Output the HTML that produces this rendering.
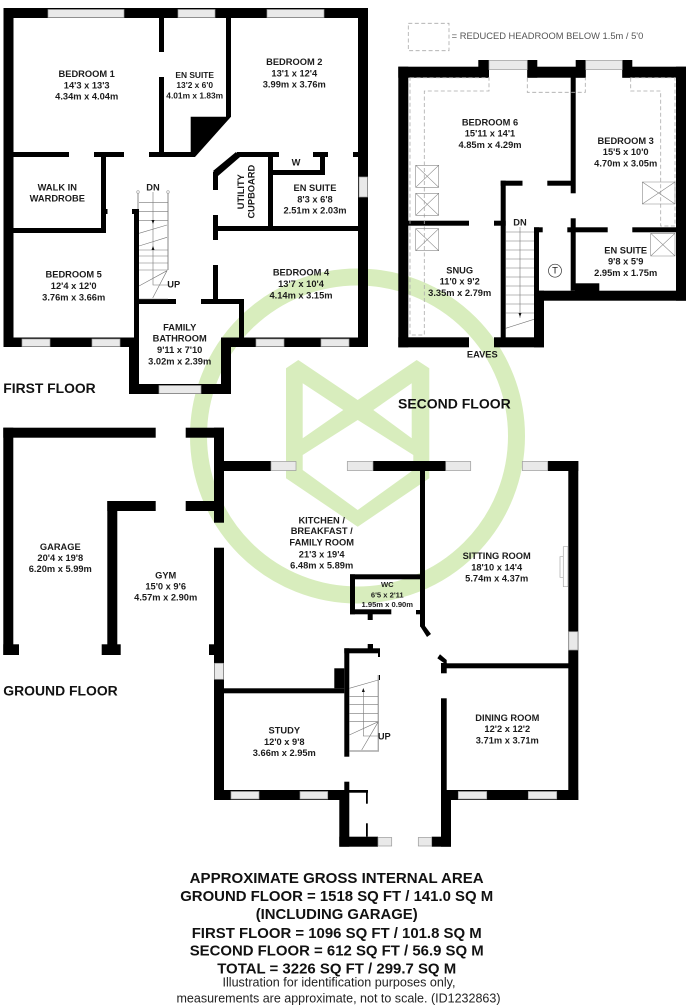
<!DOCTYPE html>
<html><head><meta charset="utf-8"><title>Floor plan</title>
<style>
html,body{margin:0;padding:0;background:#fff}
svg{display:block}
text{font-family:"Liberation Sans",sans-serif;fill:#1c1c1c;dominant-baseline:central;text-anchor:middle}
.r{font-size:9.3px;font-weight:bold}
.s{font-size:8.4px;font-weight:bold}
.w{font-size:7.6px;font-weight:bold}
.f{font-size:14.2px;font-weight:bold;text-anchor:start;fill:#111}
.t{font-size:15px;font-weight:bold;fill:#111}
.n{font-size:12.5px;fill:#222}
.win rect{fill:#e9e9e9;stroke:#9a9a9a;stroke-width:.7}
.st{stroke:#777;stroke-width:.6;fill:none}
.rail{stroke:#aaa;stroke-width:1.4;fill:none}
.dash{fill:none;stroke:#aaa;stroke-width:.8;stroke-dasharray:4 2.5}
.vx{fill:none;stroke:#888;stroke-width:.6}
</style></head>
<body>
<svg width="688" height="1008" viewBox="0 0 688 1008" xmlns="http://www.w3.org/2000/svg">
<rect width="688" height="1008" fill="#fff"/>

<!-- watermark -->
<g>
<circle cx="357.5" cy="436" r="159" fill="none" stroke="#d8edbd" stroke-width="17"/>
<path fill="#d8edbd" fill-rule="evenodd" d="M286 368.3L298.3 360L357.7 400L416.7 360L429.3 368.3V478.3L357.7 526.7L286 478.3Z M302.7 383.3L343.3 410L302.7 438.3Z M411.7 383.3L373.3 410L411.7 438.3Z M357.7 420L302.7 455V470L357.7 510L413.3 470V455Z"/>
</g>

<!-- FIRST FLOOR walls -->
<g fill="#000">
<rect x="3.5" y="8" width="364.5" height="10"/>
<rect x="3.5" y="8" width="10" height="339"/>
<rect x="358" y="8" width="10" height="339"/>
<rect x="3.5" y="337.5" width="125.5" height="9.5"/>
<rect x="221" y="337.5" width="147" height="9.5"/>
<rect x="129" y="337.5" width="10" height="56.5"/>
<rect x="221" y="337.5" width="10" height="56.5"/>
<rect x="129" y="384" width="102" height="10"/>
<rect x="159" y="18" width="5" height="34"/>
<rect x="159" y="77" width="5" height="78"/>
<rect x="226" y="18" width="5" height="99"/>
<polygon points="190.7,116.7 231,116.7 195,157 190.7,152"/>
<rect x="13" y="152" width="56" height="5"/>
<rect x="94" y="152" width="30" height="5"/>
<rect x="149" y="152" width="46" height="5"/>
<rect x="101" y="152" width="5" height="81"/>
<rect x="101" y="209" width="6.5" height="5"/>
<rect x="13" y="228" width="93" height="5"/>
<rect x="237" y="152" width="42" height="5"/>
<rect x="313" y="152" width="15" height="5"/>
<rect x="320" y="152" width="5" height="23"/>
<rect x="272" y="170" width="53" height="5"/>
<rect x="268" y="152" width="5" height="79"/>
<polygon points="236,152 240,157 218,176 213,171"/>
<rect x="213" y="172" width="5" height="18"/>
<rect x="213" y="215" width="5" height="25"/>
<rect x="213" y="226" width="145" height="5"/>
<rect x="213" y="265" width="5" height="35"/>
<rect x="353" y="152" width="5" height="5"/>
<rect x="139" y="299" width="37" height="5"/>
<rect x="201" y="299" width="43" height="5"/>
<rect x="239" y="299" width="5" height="38.5"/>
<rect x="134" y="209" width="5" height="129"/>
<rect x="132" y="209" width="7" height="5"/>
</g>
<g class="win">
<rect x="48" y="9.5" width="76" height="8"/>
<rect x="178" y="9.5" width="37" height="8"/>
<rect x="267" y="9.5" width="57" height="8"/>
<rect x="359" y="177" width="8.5" height="20"/>
<rect x="22" y="339" width="28" height="7.5"/>
<rect x="92" y="339" width="28" height="7.5"/>
<rect x="256" y="339" width="28" height="7.5"/>
<rect x="321" y="339" width="28" height="7.5"/>
<rect x="159" y="385.5" width="42" height="8"/>
</g>
<!-- first floor stairs -->
<path class="rail" d="M138 192V209M168 192V270"/>
<path class="st" d="M139 202.7H168M139 211.7H168M139 220.7H168M139 233.3L167 225M139 246L167 237.3M139 250H168M139 256H168M139 263H168M139 270H168M139 286L167 270.7M152.7 298L167 270.7M153 192V285H168M139 299H168"/>
<circle cx="138" cy="192" r="1.3" fill="#fff" stroke="#999" stroke-width=".6"/>
<circle cx="168" cy="192" r="1.3" fill="#fff" stroke="#999" stroke-width=".6"/>
<polygon points="153,224 151.5,220 154.5,220" fill="#111"/>
<polygon points="153,246 151.5,250 154.5,250" fill="#111"/>

<!-- SECOND FLOOR walls -->
<g fill="#000">
<rect x="398.3" y="66.7" width="90.7" height="11"/>
<rect x="478.3" y="60" width="10.7" height="17.7"/>
<rect x="527.3" y="60" width="10" height="17.7"/>
<rect x="527.3" y="66.7" width="58.4" height="11"/>
<rect x="575.7" y="60" width="10" height="17.7"/>
<rect x="622.3" y="60" width="10" height="17.7"/>
<rect x="622.3" y="66.7" width="63.7" height="11"/>
<rect x="398.3" y="66.7" width="10" height="280.6"/>
<rect x="676" y="66.7" width="10" height="234"/>
<rect x="534" y="290.7" width="152" height="10"/>
<rect x="575" y="283.3" width="24.3" height="8"/>
<rect x="534" y="290.7" width="10" height="56.6"/>
<rect x="398.3" y="337.3" width="70.7" height="10"/>
<rect x="494" y="337.3" width="50" height="10"/>
<rect x="500.7" y="180.7" width="5" height="157"/>
<rect x="500.7" y="180.7" width="21.8" height="5"/>
<rect x="547.3" y="180.7" width="25" height="5"/>
<rect x="570.7" y="77" width="5" height="116.3"/>
<rect x="570.7" y="218.3" width="5" height="72.4"/>
<rect x="567.3" y="227.3" width="40.4" height="5"/>
<rect x="632.3" y="227.3" width="43.7" height="5"/>
<rect x="408" y="220.7" width="61" height="5"/>
<rect x="494" y="220.7" width="11.7" height="5"/>
<rect x="534" y="227.3" width="5" height="64"/>
<rect x="534" y="227.3" width="8.7" height="5"/>
</g>
<g class="win">
<rect x="489" y="60.5" width="38.3" height="9"/>
<rect x="585.7" y="60.5" width="36.6" height="9"/>
</g>
<rect x="408.3" y="23.3" width="40.7" height="27.4" class="dash"/>
<path class="dash" d="M410 77.7H489V91H424.3V335H410Z"/>
<path class="dash" d="M527.3 77.7V92.3H585.3V77.7"/>
<path class="dash" d="M630.7 77.7V91H660.7V226H675V77.7Z"/>
<g class="vx">
<path d="M415.7 165.3H438.7V187.3H415.7ZM415.7 165.3L438.7 187.3M438.7 165.3L415.7 187.3"/>
<path d="M415.7 193.3H438.7V215.3H415.7ZM415.7 193.3L438.7 215.3M438.7 193.3L415.7 215.3"/>
<path d="M415.7 228.7H438.7V250.7H415.7ZM415.7 228.7L438.7 250.7M438.7 228.7L415.7 250.7"/>
<path d="M642.3 182H675V204H642.3ZM642.3 182L675 204M675 182L642.3 204"/>
<path d="M650.7 233.3H675V256H650.7ZM650.7 233.3L675 256M675 233.3L650.7 256"/>
</g>
<path class="st" d="M505.7 232H534M505.7 241H534M505.7 250H534M505.7 259H534M505.7 268H534M505.7 277H534M505.7 286H534M505.7 295H534M505.7 304H534M505.7 313H534M505.7 328.3L534 319.3M520 227V318"/>
<polygon points="520,317 518.5,313 521.5,313" fill="#111"/>
<circle cx="555" cy="270.7" r="6.5" fill="#fff" stroke="#333" stroke-width=".7"/>

<!-- GROUND FLOOR walls -->
<g fill="#000">
<rect x="3.3" y="427.7" width="152.4" height="10"/>
<rect x="185.7" y="427.7" width="38.3" height="10"/>
<rect x="3.3" y="427.7" width="10" height="227.3"/>
<rect x="3.3" y="644.3" width="15.7" height="10.7"/>
<rect x="107.3" y="501" width="10" height="154"/>
<rect x="107.3" y="501" width="48.4" height="10"/>
<rect x="185.7" y="501" width="30" height="10"/>
<rect x="101.7" y="644.3" width="19" height="10.7"/>
<rect x="214" y="427.7" width="10" height="95"/>
<rect x="214" y="547.7" width="10" height="252.3"/>
<rect x="209" y="644.3" width="5" height="10.7"/>
<rect x="224" y="461" width="47" height="10"/>
<rect x="373" y="461" width="72.7" height="10"/>
<rect x="547.7" y="461" width="30.6" height="10"/>
<rect x="568.3" y="461" width="10" height="339"/>
<rect x="420" y="471" width="5" height="155.7"/>
<polygon points="420,626 425,626 431,634 427,637"/>
<rect x="416" y="610" width="4" height="4.3"/>
<rect x="350" y="574.3" width="70" height="5"/>
<rect x="350" y="574.3" width="5" height="40"/>
<rect x="350" y="609.3" width="41.3" height="5"/>
<rect x="367.7" y="614" width="5" height="6"/>
<rect x="344.3" y="648.3" width="5" height="108.4"/>
<rect x="344.3" y="648.3" width="35.7" height="5"/>
<rect x="378" y="653" width="2" height="4"/>
<rect x="367.7" y="644" width="5.3" height="5"/>
<rect x="334.3" y="668.3" width="10" height="20"/>
<rect x="224" y="688.3" width="120.3" height="5"/>
<rect x="378" y="675" width="2" height="5"/>
<rect x="344.3" y="781.7" width="5" height="10"/>
<rect x="349" y="790" width="19" height="2.7"/>
<rect x="366" y="791" width="1.8" height="12.7"/>
<rect x="366" y="823.3" width="1.8" height="13.4"/>
<rect x="339.3" y="790" width="10" height="56.7"/>
<rect x="339.3" y="836.7" width="38.7" height="10"/>
<rect x="431.7" y="836.7" width="19.3" height="10"/>
<rect x="441" y="790" width="10" height="56.7"/>
<rect x="441" y="698.3" width="5.7" height="92"/>
<rect x="441" y="663" width="5.7" height="10.3"/>
<rect x="445" y="663.3" width="124" height="5"/>
<polygon points="437.3,658.3 440,654.3 446.7,660 446.7,665"/>
<rect x="214" y="790" width="125.5" height="10"/>
<rect x="441" y="790" width="137.3" height="10"/>
</g>
<g class="win">
<rect x="214.5" y="663.3" width="9" height="16"/>
<rect x="271" y="461.5" width="25" height="9"/>
<rect x="347.3" y="461.5" width="25.7" height="9"/>
<rect x="445.7" y="461.5" width="25" height="9"/>
<rect x="522.3" y="461.5" width="25.4" height="9"/>
<rect x="568.8" y="631.7" width="9" height="18.3"/>
<rect x="231" y="791.5" width="28" height="7.5"/>
<rect x="300" y="791.5" width="27.7" height="7.5"/>
<rect x="458.3" y="791.5" width="28.4" height="7.5"/>
<rect x="528.3" y="791.5" width="28.4" height="7.5"/>
<rect x="378" y="837.5" width="13.7" height="8.5"/>
<rect x="418.3" y="837.5" width="13.4" height="8.5"/>
</g>
<path d="M563.3 546.7H568V586.7H563.3ZM560 556.7H563.3V577.3H560Z" fill="#fff" stroke="#aaa" stroke-width=".7"/>
<path class="rail" d="M378.3 675V751.7M349.3 751H378"/>
<path class="st" d="M349.3 688.3L378.3 680M349.3 696.7H378M349.3 704.3H378M349.3 713.3H378M349.3 721.7H378M349.3 735L378.3 721.7M361.7 750L378.3 721.7M363.3 690V736H378"/>
<polygon points="363.3,688 361.8,692 364.8,692" fill="#111"/>

<!-- labels first floor -->
<text class="r" x="86.7" y="74">BEDROOM 1</text><text class="r" x="86.7" y="85.3">14'3 x 13'3</text><text class="r" x="86.7" y="96.7">4.34m x 4.04m</text>
<text class="s" x="194.7" y="75">EN SUITE</text><text class="s" x="194.7" y="85">13'2 x 6'0</text><text class="s" x="194.7" y="95.3">4.01m x 1.83m</text>
<text class="r" x="294.3" y="62">BEDROOM 2</text><text class="r" x="294.3" y="73.3">13'1 x 12'4</text><text class="r" x="294.3" y="84.7">3.99m x 3.76m</text>
<text class="r" x="57.3" y="187.3">WALK IN</text><text class="r" x="57.3" y="198.3">WARDROBE</text>
<text class="r" transform="translate(241,191.7) rotate(-90)">UTILITY</text><text class="r" transform="translate(251.7,191.7) rotate(-90)">CUPBOARD</text>
<text class="r" x="296" y="162.7">W</text>
<text class="r" x="315" y="188">EN SUITE</text><text class="r" x="315" y="199.3">8'3 x 6'8</text><text class="r" x="315" y="210.3">2.51m x 2.03m</text>
<text class="r" x="153" y="187.3">DN</text><text class="r" x="173.7" y="284.7">UP</text>
<text class="r" x="73.7" y="274.7">BEDROOM 5</text><text class="r" x="73.7" y="286">12'4 x 12'0</text><text class="r" x="73.7" y="297.3">3.76m x 3.66m</text>
<text class="r" x="301" y="272.7">BEDROOM 4</text><text class="r" x="301" y="284">13'7 x 10'4</text><text class="r" x="301" y="295.3">4.14m x 3.15m</text>
<text class="r" x="179.7" y="327.3">FAMILY</text><text class="r" x="179.7" y="338.7">BATHROOM</text><text class="r" x="179.7" y="350">9'11 x 7'10</text><text class="r" x="179.7" y="361.3">3.02m x 2.39m</text>
<text class="f" x="3.3" y="389" textLength="92.4" lengthAdjust="spacingAndGlyphs">FIRST FLOOR</text>

<!-- labels second floor -->
<text x="451.7" y="36" textLength="191.6" lengthAdjust="spacingAndGlyphs" style="font-size:9px;text-anchor:start;fill:#555">= REDUCED HEADROOM BELOW 1.5m / 5'0</text>
<text class="r" x="490" y="122.3">BEDROOM 6</text><text class="r" x="490" y="133.7">15'11 x 14'1</text><text class="r" x="490" y="145">4.85m x 4.29m</text>
<text class="r" x="625.7" y="141">BEDROOM 3</text><text class="r" x="625.7" y="152">15'5 x 10'0</text><text class="r" x="625.7" y="163.3">4.70m x 3.05m</text>
<text class="r" x="625.7" y="250.3">EN SUITE</text><text class="r" x="625.7" y="261.7">9'8 x 5'9</text><text class="r" x="625.7" y="273">2.95m x 1.75m</text>
<text class="r" x="459.7" y="270.3">SNUG</text><text class="r" x="459.7" y="281.7">11'0 x 9'2</text><text class="r" x="459.7" y="293">3.35m x 2.79m</text>
<text class="r" x="520" y="222.7">DN</text>
<text x="555" y="271" style="font-size:9.5px;fill:#222">T</text>
<text class="r" x="482.3" y="354.3">EAVES</text>
<text class="f" x="398" y="404.3" textLength="112.7" lengthAdjust="spacingAndGlyphs">SECOND FLOOR</text>

<!-- labels ground floor -->
<text class="r" x="60.3" y="547">GARAGE</text><text class="r" x="60.3" y="558">20'4 x 19'8</text><text class="r" x="60.3" y="569">6.20m x 5.99m</text>
<text class="r" x="165.7" y="575.3">GYM</text><text class="r" x="165.7" y="586.3">15'0 x 9'6</text><text class="r" x="165.7" y="597.7">4.57m x 2.90m</text>
<text class="r" x="321.7" y="520.3">KITCHEN /</text><text class="r" x="321.7" y="531">BREAKFAST /</text><text class="r" x="321.7" y="542.7">FAMILY ROOM</text><text class="r" x="321.7" y="554.3">21'3 x 19'4</text><text class="r" x="321.7" y="565.3">6.48m x 5.89m</text>
<text class="r" x="496.7" y="556">SITTING ROOM</text><text class="r" x="496.7" y="567.3">18'10 x 14'4</text><text class="r" x="496.7" y="578.3">5.74m x 4.37m</text>
<text class="w" x="387.3" y="584.7">WC</text><text class="w" x="387.3" y="595">6'5 x 2'11</text><text class="w" x="387.3" y="604.7">1.95m x 0.90m</text>
<text class="r" x="507.3" y="718">DINING ROOM</text><text class="r" x="507.3" y="729">12'2 x 12'2</text><text class="r" x="507.3" y="740.3">3.71m x 3.71m</text>
<text class="r" x="284.3" y="730.7">STUDY</text><text class="r" x="284.3" y="742">12'0 x 9'8</text><text class="r" x="284.3" y="753">3.66m x 2.95m</text>
<text class="r" x="384.3" y="736.7">UP</text>
<text class="f" x="3.3" y="691.7" textLength="114.4" lengthAdjust="spacingAndGlyphs">GROUND FLOOR</text>

<!-- area text -->
<text class="t" x="336.7" y="878.3" textLength="294" lengthAdjust="spacingAndGlyphs">APPROXIMATE GROSS INTERNAL AREA</text>
<text class="t" x="336.7" y="896.7" textLength="313" lengthAdjust="spacingAndGlyphs">GROUND FLOOR = 1518 SQ FT / 141.0 SQ M</text>
<text class="t" x="336.7" y="914.3" textLength="162" lengthAdjust="spacingAndGlyphs">(INCLUDING GARAGE)</text>
<text class="t" x="336.7" y="933.3" textLength="290" lengthAdjust="spacingAndGlyphs">FIRST FLOOR = 1096 SQ FT / 101.8 SQ M</text>
<text class="t" x="336.7" y="951" textLength="294" lengthAdjust="spacingAndGlyphs">SECOND FLOOR = 612 SQ FT / 56.9 SQ M</text>
<text class="t" x="336.7" y="969" textLength="239" lengthAdjust="spacingAndGlyphs">TOTAL = 3226 SQ FT / 299.7 SQ M</text>
<text class="n" x="339" y="982.7" textLength="233" lengthAdjust="spacingAndGlyphs">Illustration for identification purposes only,</text>
<text class="n" x="338.5" y="998.3" textLength="324" lengthAdjust="spacingAndGlyphs">measurements are approximate, not to scale. (ID1232863)</text>
</svg>
</body></html>
